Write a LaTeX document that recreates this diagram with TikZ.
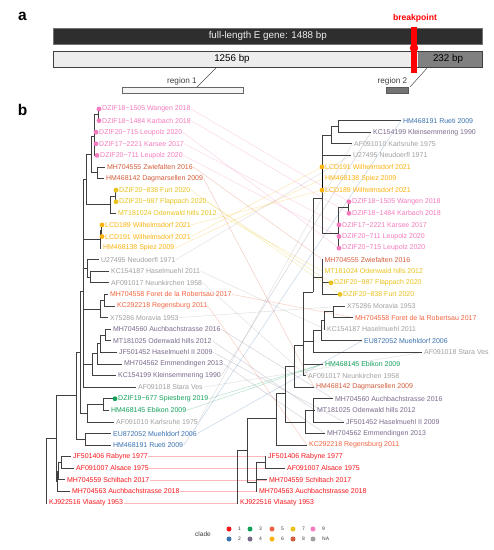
\documentclass[tikz,border=0pt]{standalone}
\usepackage{fontspec}
\setmainfont{Liberation Sans}
\pgfdeclarelayer{back}
\pgfdeclarelayer{bg}
\pgfsetlayers{back,bg,main}
\definecolor{c1}{HTML}{F8161B}
\definecolor{c2}{HTML}{3A72B0}
\definecolor{c3}{HTML}{13A05B}
\definecolor{c4}{HTML}{7A6A8C}
\definecolor{c5}{HTML}{F26440}
\definecolor{c6}{HTML}{FCB30F}
\definecolor{c7}{HTML}{E9C21C}
\definecolor{c8}{HTML}{D35D3B}
\definecolor{c9}{HTML}{F57BBE}
\definecolor{cNA}{HTML}{A0A0A0}
\definecolor{branch}{HTML}{404040}
\tikzset{
  tiplab/.style={anchor=west, inner sep=0.4pt, font=\fontsize{7}{8}\selectfont},
  br/.style={draw=branch, line width=0.7pt},
  tdot/.style={circle, inner sep=0pt, minimum size=4.8pt},
  tangle/.style={line width=0.5pt, draw opacity=0.3},
  panellab/.style={inner sep=0pt, font=\fontsize{15.5}{16}\bfseries\selectfont},
  reglab/.style={inner sep=0pt, text=black!75, font=\fontsize{8.2}{9}\selectfont},
  leglab/.style={anchor=west, inner sep=0pt, text=black!75, font=\fontsize{5}{6}\selectfont},
  legdot/.style={circle, inner sep=0pt, minimum size=5pt}
}
\begin{document}
\begin{tikzpicture}[x=1pt,y=-1pt]
\useasboundingbox (0,0) rectangle (494,550);
\begin{pgfonlayer}{back}
\fill[white] (0,0) rectangle (494,550);
\end{pgfonlayer}

% ---------------- panel a ----------------
\node[panellab] (pa) at (22.5,16) {a};
\node[anchor=north west, minimum width=429pt, minimum height=16pt, inner sep=0pt,
      fill=black!82, draw=black!55, line width=0.6pt, text=black!6,
      font=\fontsize{9.8}{10}\selectfont] (full) at (53,28) {full-length E gene: 1488 bp};
\node[anchor=north west, minimum width=365pt, minimum height=16pt, inner sep=0pt,
      fill=black!7] (seg1) at (53,51) {};
\node[anchor=north west, minimum width=64pt, minimum height=16pt, inner sep=0pt,
      fill=black!50] (seg2) at (418,51) {};
\draw[black!75, line width=1pt] (seg1.north west) rectangle (seg2.south east);
\node[inner sep=0pt, font=\fontsize{9.8}{10}\selectfont] (t1256) at (232,59) {1256 bp};
\node[inner sep=0pt, font=\fontsize{9.8}{10}\selectfont] (t232) at (448,59) {232 bp};
\node[fill=red, minimum width=6pt, minimum height=46pt, inner sep=0pt] (bp) at (414,50) {};
\node[circle, fill=red, minimum size=8.5pt, inner sep=0pt] (bpdot) at (414,48) {};
\node[inner sep=0pt, text=red, font=\fontsize{8.6}{9}\bfseries\selectfont] (bplab) at (415,18.5) {breakpoint};
\node[draw=black!60, fill=black!4, minimum width=121pt, minimum height=6pt, inner sep=0pt, line width=0.5pt] (r1) at (182.5,90) {};
\node[draw=black!65, fill=black!55, minimum width=22pt, minimum height=6pt, inner sep=0pt, line width=0.5pt] (r2) at (397,90) {};
\node[reglab] (r1lab) at (182,81.5) {region 1};
\node[reglab] (r2lab) at (392.5,81.5) {region 2};
\coordinate (r1top) at (217,67);
\coordinate (r1bot) at (197,87);
\coordinate (r2top) at (428,67);
\coordinate (r2bot) at (410,87);
\draw[black!70, line width=0.5pt] (r1top) -- (r1bot);
\draw[black!70, line width=0.5pt] (r2top) -- (r2bot);

% ---------------- panel b ----------------
\node[panellab] (pb) at (22.5,109.5) {b};

% left tips
\foreach \i/\x/\y/\c/\d/\t in {
1/99/109.0/c9/1/DZIF18−1505 Wangen 2018,
2/99/120.6/c9/1/DZIF18−1484 Karbach 2018,
3/96/132.2/c9/1/DZIF20−715 Leupolz 2020,
4/96/143.8/c9/1/DZIF17−2221 Karsee 2017,
5/97/155.4/c9/1/DZIF20−711 Leupolz 2020,
6/105/166.9/c8/0/MH704555 Zwiefalten 2016,
7/104/178.5/c8/0/HM468142 Dagmarsellen 2009,
8/116/190.1/c7/1/DZIF20−838 Furt 2020,
9/116/201.7/c7/1/DZIF20−987 Flappach 2020,
10/116/213.3/c7/0/MT181024 Odenwald hills 2012,
11/102/224.9/c6/1/LCD189 Wilhelmsdorf 2021,
12/102/236.5/c6/1/LCD191 Wilhelmsdorf 2021,
13/101/248.1/c6/0/HM468138 Spiez 2009,
14/99/259.6/cNA/0/U27495 Neudoerfl 1971,
15/109/271.2/cNA/0/KC154187 Haselmuehl 2011,
16/109/282.8/cNA/0/AF091017 Neunkirchen 1958,
17/108/294.4/c5/0/MH704558 Foret de la Robertsau 2017,
18/115/306.0/c5/0/KC292218 Regensburg 2011,
19/108/317.6/cNA/0/X75286 Moravia 1953,
20/111/329.2/c4/0/MH704560 Auchbachstrasse 2016,
21/111/340.8/c4/0/MT181025 Odenwald hills 2012,
22/117/352.4/c4/0/JF501452 Haselmuehl II 2009,
23/122/363.9/c4/0/MH704562 Emmendingen 2013,
24/116/375.5/c4/0/KC154199 Kleinsemmering 1990,
25/136/387.1/cNA/0/AF091018 Stara Ves,
26/115/398.7/c3/1/DZIF19−677 Spiesberg 2019,
27/109/410.3/c3/0/HM468145 Ebikon 2009,
28/114/421.9/cNA/0/AF091010 Karlsruhe 1975,
29/111/433.5/c2/0/EU872052 Muehldorf 2006,
30/111/445.1/c2/0/HM468191 Rueti 2009,
31/71/456.6/c1/0/JF501406 Rabyne 1977,
32/74/468.2/c1/0/AF091007 Alsace 1975,
33/65/479.8/c1/0/MH704559 Schiltach 2017,
34/70/491.4/c1/0/MH704563 Auchbachstrasse 2018,
35/47/503.0/c1/0/KJ922516 Vlasaty 1953}{
  \coordinate (lt\i) at (\x,\y);
  \ifnum\d=1\relax
    \node[tiplab,text=\c,xshift=2.6pt] (L\i) at (lt\i) {\t};
  \else
    \node[tiplab,text=\c,xshift=1.5pt] (L\i) at (lt\i) {\t};
  \fi
}

% right tips
\foreach \i/\x/\y/\c/\d/\t in {
1/401/120.6/c2/0/HM468191 Rueti 2009,
2/371/132.2/c4/0/KC154199 Kleinsemmering 1990,
3/352/143.8/cNA/0/AF091010 Karlsruhe 1975,
4/351/155.4/cNA/0/U27495 Neudoerfl 1971,
5/322/166.9/c6/1/LCD191 Wilhelmsdorf 2021,
6/323/178.5/c6/0/HM468138 Spiez 2009,
7/322/190.1/c6/1/LCD189 Wilhelmsdorf 2021,
8/349/201.7/c9/1/DZIF18−1505 Wangen 2018,
9/349/213.3/c9/1/DZIF18−1484 Karbach 2018,
10/339/224.9/c9/1/DZIF17−2221 Karsee 2017,
11/339/236.5/c9/1/DZIF20−711 Leupolz 2020,
12/339/248.1/c9/1/DZIF20−715 Leupolz 2020,
13/322.5/259.6/c8/0/MH704555 Zwiefalten 2016,
14/322.5/271.2/c7/0/MT181024 Odenwald hills 2012,
15/331/282.8/c7/1/DZIF20−987 Flappach 2020,
16/340/294.4/c7/1/DZIF20−838 Furt 2020,
17/345/306.0/cNA/0/X75286 Moravia 1953,
18/353/317.6/c5/0/MH704558 Foret de la Robertsau 2017,
19/325/329.2/cNA/0/KC154187 Haselmuehl 2011,
20/362/340.8/c2/0/EU872052 Muehldorf 2006,
21/422/352.4/cNA/0/AF091018 Stara Ves,
22/323/363.9/c3/0/HM468145 Ebikon 2009,
23/306/375.5/cNA/0/AF091017 Neunkirchen 1958,
24/314/387.1/c8/0/HM468142 Dagmarsellen 2009,
25/333/398.7/c4/0/MH704560 Auchbachstrasse 2016,
26/315/410.3/c4/0/MT181025 Odenwald hills 2012,
27/344/421.9/c4/0/JF501452 Haselmuehl II 2009,
28/325/433.5/c4/0/MH704562 Emmendingen 2013,
29/307/445.1/c5/0/KC292218 Regensburg 2011,
30/266/456.6/c1/0/JF501406 Rabyne 1977,
31/285/468.2/c1/0/AF091007 Alsace 1975,
32/267/479.8/c1/0/MH704559 Schiltach 2017,
33/257/491.4/c1/0/MH704563 Auchbachstrasse 2018,
34/238/503.0/c1/0/KJ922516 Vlasaty 1953}{
  \coordinate (rt\i) at (\x,\y);
  \ifnum\d=1\relax
    \node[tiplab,text=\c,xshift=2.6pt] (R\i) at (rt\i) {\t};
  \else
    \node[tiplab,text=\c,xshift=1.5pt] (R\i) at (rt\i) {\t};
  \fi
}

% tanglegram connectors (behind)
\begin{pgfonlayer}{bg}
\foreach \a/\b/\c in {1/8/c9,2/9/c9,3/12/c9,4/10/c9,5/11/c9,6/13/c8,7/24/c8,
  8/16/c7,9/15/c7,10/14/c7,11/7/c6,12/5/c6,13/6/c6,14/4/cNA,15/19/cNA,16/23/cNA,
  17/18/c5,18/29/c5,19/17/cNA,20/25/c4,21/26/c4,22/27/c4,23/28/c4,24/2/c4,
  25/21/cNA,26/22/c3,27/22/c3,28/3/cNA,29/20/c2,30/1/c2,31/30/c1,32/31/c1,
  33/32/c1,34/33/c1,35/34/c1}
  \draw[tangle,draw=\c] (L\a.east) -- (rt\b);
\end{pgfonlayer}

% left internal nodes
\coordinate (LP0) at (98.5,114.8);
\coordinate (LP) at (94,136.5);
\coordinate (LB) at (97,172.7);
\coordinate (LAB) at (91,154.6);
\coordinate (LC0) at (115.5,195.9);
\coordinate (LC) at (110,204.6);
\coordinate (LABC) at (86,179.6);
\coordinate (LD0) at (101.5,230.7);
\coordinate (LD) at (100,239.4);
\coordinate (LE2) at (90,277);
\coordinate (LE) at (87,268.3);
\coordinate (LF0) at (104,300.2);
\coordinate (LF) at (100,308.9);
\coordinate (LG0) at (105,335);
\coordinate (LG1) at (100,343.7);
\coordinate (LG2) at (97,353.8);
\coordinate (LG) at (92,364.7);
\coordinate (LN1) at (83,291.3);
\coordinate (LH0) at (103,404.5);
\coordinate (LH) at (87,413.2);
\coordinate (LN2) at (80,352);
\coordinate (LI) at (85,439.3);
\coordinate (LN3) at (76,395.7);
\coordinate (LR1) at (61,462.4);
\coordinate (LR2) at (58,471.1);
\coordinate (LR3) at (57,481.3);
\coordinate (LN4) at (56,438.5);
\coordinate (LRoot) at (46,470.8);

\foreach \c in {lt1,lt2} \draw[br] (LP0) |- (\c);
\foreach \c in {LP0,lt3,lt4,lt5} \draw[br] (LP) |- (\c);
\foreach \c in {lt6,lt7} \draw[br] (LB) |- (\c);
\foreach \c in {LP,LB} \draw[br] (LAB) |- (\c);
\foreach \c in {lt8,lt9} \draw[br] (LC0) |- (\c);
\foreach \c in {LC0,lt10} \draw[br] (LC) |- (\c);
\foreach \c in {LAB,LC} \draw[br] (LABC) |- (\c);
\foreach \c in {lt11,lt12} \draw[br] (LD0) |- (\c);
\foreach \c in {LD0,lt13} \draw[br] (LD) |- (\c);
\foreach \c in {lt15,lt16} \draw[br] (LE2) |- (\c);
\foreach \c in {lt14,LE2} \draw[br] (LE) |- (\c);
\foreach \c in {lt17,lt18} \draw[br] (LF0) |- (\c);
\foreach \c in {LF0,lt19} \draw[br] (LF) |- (\c);
\foreach \c in {lt20,lt21} \draw[br] (LG0) |- (\c);
\foreach \c in {LG0,lt22} \draw[br] (LG1) |- (\c);
\foreach \c in {LG1,lt23} \draw[br] (LG2) |- (\c);
\foreach \c in {LG2,lt24} \draw[br] (LG) |- (\c);
\foreach \c in {LABC,LD,LE,LF,LG,lt25} \draw[br] (LN1) |- (\c);
\foreach \c in {lt26,lt27} \draw[br] (LH0) |- (\c);
\foreach \c in {LH0,lt28} \draw[br] (LH) |- (\c);
\foreach \c in {LN1,LH} \draw[br] (LN2) |- (\c);
\foreach \c in {lt29,lt30} \draw[br] (LI) |- (\c);
\foreach \c in {LN2,LI} \draw[br] (LN3) |- (\c);
\foreach \c in {lt31,lt32} \draw[br] (LR1) |- (\c);
\foreach \c in {LR1,lt33} \draw[br] (LR2) |- (\c);
\foreach \c in {LR2,lt34} \draw[br] (LR3) |- (\c);
\foreach \c in {LN3,LR3} \draw[br] (LN4) |- (\c);
\foreach \c in {LN4,lt35} \draw[br] (LRoot) |- (\c);

% right internal nodes
\coordinate (RQ0) at (338,126.4);
\coordinate (RQ1) at (331,135.1);
\coordinate (RPk0) at (348.5,207.5);
\coordinate (RPk) at (338.5,233);
\coordinate (RTop) at (322,198);
\coordinate (RZ) at (322,277);
\coordinate (RP1) at (313,292);
\coordinate (RF) at (333,311.8);
\coordinate (RG) at (324,320.5);
\coordinate (RH) at (321,330.6);
\coordinate (RS) at (313,341.5);
\coordinate (RE) at (303,345);
\coordinate (RD) at (294,366);
\coordinate (RPu1) at (313,410.3);
\coordinate (RPu2) at (305,421.9);
\coordinate (RL) at (285,393);
\coordinate (RM) at (276,418);
\coordinate (RR1) at (265,462.4);
\coordinate (RR2) at (256,482);
\coordinate (RR3) at (247,450);
\coordinate (RRoot) at (237,476.5);

\foreach \c in {rt1,rt2} \draw[br] (RQ0) |- (\c);
\foreach \c in {RQ0,rt3} \draw[br] (RQ1) |- (\c);
\foreach \c in {rt8,rt9} \draw[br] (RPk0) |- (\c);
\foreach \c in {RPk0,rt10,rt11,rt12} \draw[br] (RPk) |- (\c);
\foreach \c in {RQ1,rt4,rt5,rt6,rt7,RPk} \draw[br] (RTop) |- (\c);
\draw[draw=black, line width=1pt] (rt5) -- (rt7);
\foreach \c in {rt13,rt14,rt15,rt16} \draw[br] (RZ) |- (\c);
\foreach \c in {RTop,RZ} \draw[br] (RP1) |- (\c);
\foreach \c in {rt17,rt18} \draw[br] (RF) |- (\c);
\foreach \c in {RF,rt19} \draw[br] (RG) |- (\c);
\foreach \c in {RG,rt20} \draw[br] (RH) |- (\c);
\foreach \c in {RH,rt21} \draw[br] (RS) |- (\c);
\foreach \c in {RP1,RS,rt22,rt23} \draw[br] (RE) |- (\c);
\foreach \c in {RE,rt24} \draw[br] (RD) |- (\c);
\foreach \c in {rt25,rt26,rt27} \draw[br] (RPu1) |- (\c);
\foreach \c in {RPu1,rt28} \draw[br] (RPu2) |- (\c);
\foreach \c in {RD,RPu2} \draw[br] (RL) |- (\c);
\foreach \c in {RL,rt29} \draw[br] (RM) |- (\c);
\foreach \c in {rt30,rt31} \draw[br] (RR1) |- (\c);
\foreach \c in {RR1,rt32,rt33} \draw[br] (RR2) |- (\c);
\foreach \c in {RM,RR2} \draw[br] (RR3) |- (\c);
\foreach \c in {RR3,rt34} \draw[br] (RRoot) |- (\c);

% tip dots
\foreach \i/\c in {1/c9,2/c9,3/c9,4/c9,5/c9,8/c7,9/c7,11/c6,12/c6,26/c3}
  \node[tdot,fill=\c] (dl\i) at (lt\i) {};
\foreach \i/\c in {5/c6,7/c6,8/c9,9/c9,10/c9,11/c9,12/c9,15/c7,16/c7}
  \node[tdot,fill=\c] (dr\i) at (rt\i) {};

% legend
\node[inner sep=0pt, text=black!75, font=\fontsize{6.5}{7}\selectfont] (legt) at (203,534) {clade};
\foreach \n/\x/\y/\c/\t in {a/229/529/c1/1, b/250/529/c3/3, c/272/529/c5/5, d/293/529/c7/7, e/313/529/c9/9,
  f/229/539/c2/2, g/250/539/c4/4, h/272/539/c6/6, i/293/539/c8/8, j/313/539/cNA/NA}{
  \node[legdot,fill=\c] (lg\n) at (\x,\y) {};
  \node[leglab] (lgt\n) at (\x+9,\y) {\t};
}
\end{tikzpicture}
\end{document}
